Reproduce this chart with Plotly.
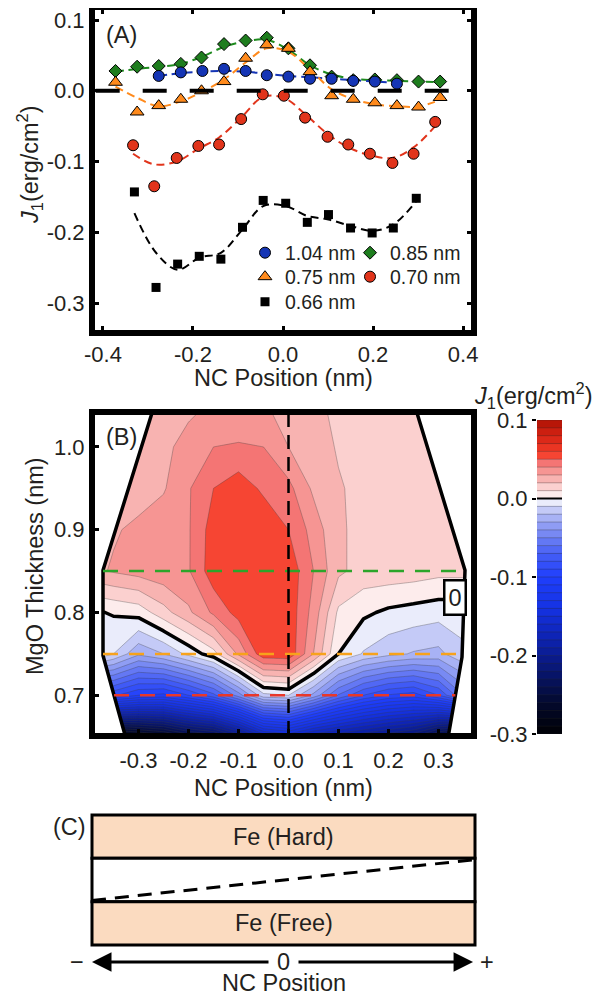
import numpy as np
import plotly.graph_objects as go

# the page body keeps its default 8px margin, so the figure is drawn 8px in from the window corner
W, H = 606, 995
OFF = 8
FIG_W, FIG_H = W - OFF, H - OFF
FONT = "Liberation Sans, Arial, Helvetica, sans-serif"
INK = "#231f20"

# ---------------- panel (A): J1 (erg/cm^2) vs NC position (nm) ----------------
pos_104 = [-0.276, -0.227, -0.179, -0.131, -0.083, -0.036, 0.012, 0.060, 0.108, 0.156, 0.204, 0.253]
j1_104 = [0.021, 0.026, 0.028, 0.031, 0.028, 0.022, 0.020, 0.017, 0.017, 0.014, 0.013, 0.010]
fit_104 = [0.021, 0.025, 0.027, 0.028, 0.027, 0.024, 0.021, 0.019, 0.017, 0.015, 0.013, 0.011]

pos_085 = [-0.372, -0.324, -0.276, -0.227, -0.181, -0.131, -0.083, -0.036, 0.012, 0.060, 0.108, 0.156, 0.204, 0.253, 0.301, 0.349]
j1_085 = [0.028, 0.034, 0.035, 0.038, 0.047, 0.066, 0.071, 0.075, 0.060, 0.036, 0.020, 0.015, 0.016, 0.015, 0.013, 0.013]
fit_085 = [0.027, 0.031, 0.034, 0.038, 0.048, 0.062, 0.070, 0.072, 0.058, 0.036, 0.023, 0.017, 0.015, 0.014, 0.013, 0.012]

pos_075 = [-0.372, -0.324, -0.276, -0.227, -0.181, -0.131, -0.083, -0.036, 0.012, 0.060, 0.108, 0.156, 0.204, 0.253, 0.301, 0.349]
j1_075 = [0.012, -0.030, -0.021, -0.012, 0.000, 0.013, 0.046, 0.065, 0.060, 0.027, -0.007, -0.012, -0.017, -0.021, -0.023, -0.0095]
fit_075 = [0.006, -0.010, -0.022, -0.015, -0.002, 0.016, 0.040, 0.060, 0.055, 0.030, 0.002, -0.012, -0.019, -0.022, -0.022, -0.013]

pos_070 = [-0.333, -0.286, -0.236, -0.188, -0.142, -0.093, -0.045, 0.002, 0.049, 0.099, 0.145, 0.193, 0.243, 0.290, 0.338]
j1_070 = [-0.077, -0.135, -0.095, -0.078, -0.076, -0.040, -0.005, -0.007, -0.038, -0.065, -0.076, -0.089, -0.102, -0.089, -0.044]
fit_070 = [-0.089, -0.104, -0.100, -0.082, -0.066, -0.038, -0.009, -0.010, -0.033, -0.061, -0.080, -0.091, -0.095, -0.080, -0.050]

pos_066 = [-0.330, -0.282, -0.234, -0.186, -0.138, -0.090, -0.044, 0.006, 0.054, 0.101, 0.150, 0.198, 0.245, 0.296]
j1_066 = [-0.143, -0.278, -0.245, -0.234, -0.238, -0.193, -0.155, -0.159, -0.186, -0.175, -0.194, -0.201, -0.194, -0.152]
fit_066 = [-0.173, -0.229, -0.253, -0.236, -0.229, -0.196, -0.163, -0.163, -0.177, -0.182, -0.191, -0.198, -0.189, -0.156]

a_xticks = [-0.4, -0.2, 0.0, 0.2, 0.4]
a_xlabels = ["-0.4", "-0.2", "0.0", "0.2", "0.4"]
a_yticks = [0.1, 0.0, -0.1, -0.2, -0.3]
a_ylabels = ["0.1", "0.0", "-0.1", "-0.2", "-0.3"]

# ---------------- panel (B): J1 map over NC position x MgO thickness ----------------
grid_x = [-0.40, -0.35, -0.30, -0.25, -0.20, -0.15, -0.10, -0.05, 0.00, 0.05, 0.10, 0.15, 0.20, 0.25, 0.30, 0.35, 0.40]
grid_t = [0.65, 0.70, 0.75, 0.80, 0.85, 0.90, 0.95, 1.00, 1.05]
j1_t065 = [-0.300, -0.290, -0.280, -0.270, -0.250, -0.240, -0.210, -0.170, -0.160, -0.180, -0.190, -0.200, -0.210, -0.220, -0.250, -0.270, -0.280]
j1_t070 = [-0.090, -0.088, -0.100, -0.103, -0.090, -0.073, -0.045, -0.013, -0.010, -0.033, -0.061, -0.080, -0.091, -0.095, -0.080, -0.050, -0.045]
j1_t075 = [0.005, -0.010, -0.028, -0.020, -0.007, 0.006, 0.032, 0.057, 0.058, 0.030, 0.000, -0.011, -0.017, -0.021, -0.023, -0.012, -0.010]
j1_t080 = [-0.002, 0.001, 0.004, 0.016, 0.028, 0.042, 0.054, 0.057, 0.057, 0.036, 0.008, 0.002, -0.002, -0.004, -0.006, -0.006, -0.005]
j1_t085 = [0.027, 0.031, 0.034, 0.037, 0.039, 0.056, 0.059, 0.059, 0.057, 0.040, 0.022, 0.016, 0.016, 0.015, 0.013, 0.013, 0.013]
j1_t090 = [0.027, 0.029, 0.032, 0.036, 0.039, 0.055, 0.058, 0.058, 0.050, 0.036, 0.021, 0.018, 0.017, 0.016, 0.015, 0.015, 0.015]
j1_t095 = [0.022, 0.024, 0.026, 0.029, 0.039, 0.050, 0.056, 0.048, 0.043, 0.028, 0.021, 0.017, 0.016, 0.015, 0.014, 0.014, 0.014]
j1_t100 = [0.022, 0.023, 0.025, 0.028, 0.033, 0.040, 0.041, 0.040, 0.030, 0.025, 0.019, 0.016, 0.015, 0.014, 0.013, 0.013, 0.013]
j1_t105 = [0.020, 0.021, 0.022, 0.025, 0.028, 0.031, 0.032, 0.031, 0.026, 0.022, 0.018, 0.015, 0.014, 0.013, 0.012, 0.012, 0.012]
grid_z = [j1_t065, j1_t070, j1_t075, j1_t080, j1_t085, j1_t090, j1_t095, j1_t100, j1_t105]

# edges of the measured region (NC position, thickness)
edge_left_x = [-0.327, -0.371, -0.371, -0.273]
edge_left_t = [0.652, 0.748, 0.851, 1.041]
edge_right_x = [0.320, 0.347, 0.353, 0.257]
edge_right_t = [0.652, 0.746, 0.851, 1.041]

cut_t = [0.85, 0.75, 0.70]
cut_colors = ["#2ca52a", "#f7a21b", "#e8372a"]

b_xticks = [-0.3, -0.2, -0.1, 0.0, 0.1, 0.2, 0.3]
b_xlabels = ["-0.3", "-0.2", "-0.1", "0.0", "0.1", "0.2", "0.3"]
b_yticks = [0.7, 0.8, 0.9, 1.0]
b_ylabels = ["0.7", "0.8", "0.9", "1.0"]

cb_ticks = [0.1, 0.0, -0.1, -0.2, -0.3]
cb_labels = ["0.1", "0.0", "-0.1", "-0.2", "-0.3"]

lev_start, lev_end, lev_size = -0.3, 0.1, 0.01
cmap_vals = [-0.305, -0.26, -0.22, -0.18, -0.14, -0.10, -0.07, -0.05, -0.03, -0.015, -0.005,
             0.005, 0.015, 0.025, 0.035, 0.045, 0.055, 0.065, 0.075, 0.085, 0.095, 0.105]
cmap_cols = ["#000000", "#03092e", "#081670", "#0d22b0", "#1532e2", "#1f3efc", "#4760f5", "#6d80f3",
             "#9aa6f4", "#c4caf7", "#eaecfb", "#fdecec", "#fbd0cf", "#f8b3b1", "#f69593", "#f47574",
             "#f64533", "#ea3523", "#dc2919", "#cc1f10", "#b81608", "#a81206"]


def px(x):
    # window pixel -> paper fraction
    return (x - OFF) / FIG_W


def py(y):
    return 1 - (y - OFF) / FIG_H


n_lev = int(round((lev_end - lev_start) / lev_size)) + 1
cmin = lev_start - lev_size / 2
cspan = n_lev * lev_size
cscale = [[(v - cmin) / cspan, c] for v, c in zip(cmap_vals, cmap_cols)]
cscale[0][0], cscale[-1][0] = 0.0, 1.0

fig = go.Figure()

# ---- (A) fits then markers
series = [
    ("0.85 nm", pos_085, j1_085, fit_085, "#1e7d1e", "diamond", 10, "legend2"),
    ("1.04 nm", pos_104, j1_104, fit_104, "#1535b5", "circle", 11, "legend"),
    ("0.75 nm", pos_075, j1_075, fit_075, "#ff8a1c", "triangle-up", 12, "legend3"),
    ("0.70 nm", pos_070, j1_070, fit_070, "#e1341b", "circle", 11, "legend4"),
    ("0.66 nm", pos_066, j1_066, fit_066, "#000000", "square", 9, "legend5"),
]
fit_col = {"0.85 nm": "#1e8a1e", "1.04 nm": "#1535b5", "0.75 nm": "#ff8a1c",
           "0.70 nm": "#e1341b", "0.66 nm": "#000000"}
for name, xs, ys, fit, col, sym, size, leg in series:
    fig.add_trace(go.Scatter(x=xs, y=fit, mode="lines", line_shape="spline",
                             line=dict(color=fit_col[name], width=2, dash="8px,5px"),
                             showlegend=False, hoverinfo="skip", xaxis="x", yaxis="y"))
for name, xs, ys, fit, col, sym, size, leg in series:
    outline = 0 if sym == "square" else 1
    fig.add_trace(go.Scatter(x=xs, y=ys, mode="markers", name=name, legend=leg,
                             marker=dict(symbol=sym, size=size, color=col,
                                         line=dict(color="black", width=outline)),
                             xaxis="x", yaxis="y"))

# ---- (B) filled contours, zero contour, masks, cuts
fig.add_trace(go.Contour(x=grid_x, y=grid_t, z=grid_z, xaxis="x2", yaxis="y2",
                         autocontour=False, showlegend=False,
                         contours=dict(start=lev_start, end=lev_end, size=lev_size, coloring="fill"),
                         colorscale=cscale, showscale=False,
                         line=dict(color="rgba(60,60,60,0.55)", width=0.6, smoothing=0),
                         hoverinfo="skip"))
fig.add_trace(go.Contour(x=grid_x, y=grid_t, z=grid_z, xaxis="x2", yaxis="y2",
                         autocontour=False, showlegend=False,
                         contours=dict(start=0, end=0, size=0.1, coloring="none"),
                         showscale=False, line=dict(color="black", width=3.5, smoothing=0),
                         hoverinfo="skip"))

x2_lo, x2_hi = -0.391, 0.369
t_lo, t_hi = 0.652, 1.041
fig.add_trace(go.Scatter(x=[x2_lo] + edge_left_x + [x2_lo], y=[t_lo] + edge_left_t + [t_hi],
                         fill="toself", fillcolor="white", mode="none",
                         showlegend=False, hoverinfo="skip", xaxis="x2", yaxis="y2"))
fig.add_trace(go.Scatter(x=[x2_hi] + edge_right_x + [x2_hi], y=[t_lo] + edge_right_t + [t_hi],
                         fill="toself", fillcolor="white", mode="none",
                         showlegend=False, hoverinfo="skip", xaxis="x2", yaxis="y2"))
for ex, et in [(edge_left_x, edge_left_t), (edge_right_x, edge_right_t)]:
    fig.add_trace(go.Scatter(x=ex, y=et, mode="lines", line=dict(color="black", width=3.5),
                             showlegend=False, hoverinfo="skip", xaxis="x2", yaxis="y2"))

for t, col in zip(cut_t, cut_colors):
    xl = float(np.interp(t, edge_left_t, edge_left_x))
    xr = float(np.interp(t, edge_right_t, edge_right_x))
    fig.add_trace(go.Scatter(x=[xl, xr], y=[t, t], mode="lines",
                             line=dict(color=col, width=2.5, dash="15px,11px"),
                             showlegend=False, hoverinfo="skip", xaxis="x2", yaxis="y2"))
fig.add_trace(go.Scatter(x=[0, 0], y=[t_lo, t_hi], mode="lines",
                         line=dict(color="black", width=2.5, dash="14px,8px"),
                         showlegend=False, hoverinfo="skip", xaxis="x2", yaxis="y2"))

# ---- colour bar drawn as its own small axis
levels = np.round(np.linspace(lev_start, lev_end, n_lev), 3)
mids = (levels[:-1] + levels[1:]) / 2
fig.add_trace(go.Heatmap(x=[0, 1], y=levels, z=[[m] for m in mids], colorscale=cscale,
                         zmin=cmin, zmax=cmin + cspan, showscale=False, hoverinfo="skip",
                         showlegend=False, xaxis="x4", yaxis="y4"))
sep_x, sep_y = [], []
for lv in levels:
    sep_x += [0, 1, None]
    sep_y += [lv, lv, None]
fig.add_trace(go.Scatter(x=sep_x, y=sep_y, mode="lines", line=dict(color="rgba(40,40,40,0.45)", width=0.7),
                         showlegend=False, hoverinfo="skip", xaxis="x4", yaxis="y4"))
fig.add_trace(go.Scatter(x=[0, 1], y=[0, 0], mode="lines", line=dict(color="black", width=2),
                         showlegend=False, hoverinfo="skip", xaxis="x4", yaxis="y4"))

# ---- layout
tfont = dict(family=FONT, size=22, color=INK)
axis_common = dict(showline=True, linewidth=4, linecolor="black", ticks="inside", ticklen=6,
                   tickwidth=3, tickcolor="black", showgrid=False, zeroline=False, tickfont=tfont,
                   automargin=False, layer="above traces", ticklabeloverflow="allow")

# panel C axes: NC position -1..1 spans window x 92..475, one layer = 43.3 px
c_unit_x = (475 - 92) / 2
c_unit_y = 130 / 3

fig.update_layout(
    width=FIG_W, height=FIG_H, margin=dict(l=0, r=0, t=0, b=0, pad=0, autoexpand=False),
    paper_bgcolor="white", plot_bgcolor="white",
    font=dict(family=FONT, color=INK),
    xaxis=dict(axis_common, domain=[px(93), px(473)], range=[-0.422, 0.422], anchor="y",
               mirror="allticks", tickvals=a_xticks, ticktext=a_xlabels),
    yaxis=dict(axis_common, domain=[py(332), py(8)], range=[-0.341, 0.117], anchor="x",
               mirror="allticks", tickvals=a_yticks, ticktext=a_ylabels),
    xaxis2=dict(axis_common, domain=[px(93), px(473)], range=[x2_lo, x2_hi], anchor="y2",
                mirror=True, tickvals=b_xticks, ticktext=b_xlabels, ticklabelstandoff=3),
    yaxis2=dict(axis_common, domain=[py(735), py(413)], range=[t_lo, t_hi], anchor="x2",
                mirror=True, tickvals=b_yticks, ticktext=b_ylabels),
    xaxis3=dict(domain=[0, 1], visible=False, anchor="y3",
                range=[-1 - (92 - OFF) / c_unit_x, 1 + (W - 475) / c_unit_x]),
    yaxis3=dict(domain=[0, py(805)], visible=False, anchor="x3",
                range=[-(H - 945) / c_unit_y, (945 - 805) / c_unit_y]),
    xaxis4=dict(domain=[px(537), px(562)], range=[0, 1], visible=False, anchor="y4"),
    yaxis4=dict(domain=[py(734), py(420)], range=[-0.3, 0.1], anchor="x4", side="left",
                showline=False, ticks="outside", ticklen=4, tickwidth=2, tickcolor="black",
                showgrid=False, zeroline=False, tickvals=cb_ticks, ticktext=cb_labels, tickfont=tfont,
                automargin=False, ticklabeloverflow="allow"),
)

leg_font = dict(family=FONT, size=19.5, color=INK)
leg_pos = {"legend": (245, 253), "legend2": (350, 253), "legend3": (245, 277),
           "legend4": (350, 277), "legend5": (245, 302)}
for key, (lx, ly) in leg_pos.items():
    fig.update_layout({key: dict(x=px(lx), y=py(ly), xanchor="left", yanchor="middle",
                                 bgcolor="rgba(0,0,0,0)", borderwidth=0, font=leg_font)})

# frames drawn on top of the panels
for xr_, yr_ in [("x", "y"), ("x2", "y2")]:
    fig.add_shape(type="rect", xref=xr_ + " domain", yref=yr_ + " domain", x0=0, x1=1, y0=0, y1=1,
                  line=dict(color="black", width=4), fillcolor="rgba(0,0,0,0)", layer="above")

# zero reference line in (A)
fig.add_shape(type="line", xref="x", yref="y", x0=-0.416, x1=0.378, y0=0, y1=0,
              line=dict(color="black", width=4, dash="24px,23px"))

# ---- panel (C): schematic wedge
peach = "#fbdbc0"
fig.add_shape(type="rect", xref="x3", yref="y3", x0=-1, x1=1, y0=2, y1=3,
              fillcolor=peach, line=dict(color="black", width=3))
fig.add_shape(type="rect", xref="x3", yref="y3", x0=-1, x1=1, y0=1, y1=2,
              fillcolor="white", line=dict(color="black", width=3))
fig.add_shape(type="rect", xref="x3", yref="y3", x0=-1, x1=1, y0=0, y1=1,
              fillcolor=peach, line=dict(color="black", width=3))
fig.add_shape(type="line", xref="x3", yref="y3", x0=-1, y0=1.03, x1=1, y1=1.97,
              line=dict(color="black", width=3, dash="14px,9px"))

lab_font = dict(family=FONT, size=23.5, color=INK)
ann = []


def note(text, x, y, xref="paper", yref="paper", **kw):
    d = dict(text=text, x=x, y=y, xref=xref, yref=yref, showarrow=False, font=lab_font,
             xanchor="center", yanchor="middle")
    d.update(kw)
    ann.append(d)


note("(A)", px(121), py(35))
note("(B)", px(121), py(437))
note("<i>J</i><sub>1</sub>(erg/cm<sup>2</sup>)", px(30), py(165), textangle=-90)
note("NC Position (nm)", px(283), py(378))
note("MgO Thickness (nm)", px(35), py(566), textangle=-90)
note("NC Position (nm)", px(283), py(788))
note("<i>J</i><sub>1</sub>(erg/cm<sup>2</sup>)", px(533), py(395))
note("0", 0.332, 0.818, xref="x2", yref="y2", bgcolor="white", bordercolor="black",
     borderwidth=2.5, borderpad=3)

note("(C)", -1.115, 2.72, xref="x3", yref="y3")
note("Fe (Hard)", 0, 2.5, xref="x3", yref="y3")
note("Fe (Free)", 0, 0.5, xref="x3", yref="y3")
note("0", 0, -0.392, xref="x3", yref="y3", height=24)
note("\u2212", -1.078, -0.392, xref="x3", yref="y3")
note("+", 1.063, -0.392, xref="x3", yref="y3")
note("NC Position", 0, -0.88, xref="x3", yref="y3", height=26)
for tip, tail in [(-1.0, -0.0705), (0.99, 0.0705)]:
    ann.append(dict(x=tip, y=-0.392, ax=tail, ay=-0.392, xref="x3", yref="y3", axref="x3", ayref="y3",
                    text="", showarrow=True, arrowhead=2, arrowsize=1.3, arrowwidth=3, arrowcolor="black"))

fig.update_layout(annotations=ann)
fig.write_html("out.html")
